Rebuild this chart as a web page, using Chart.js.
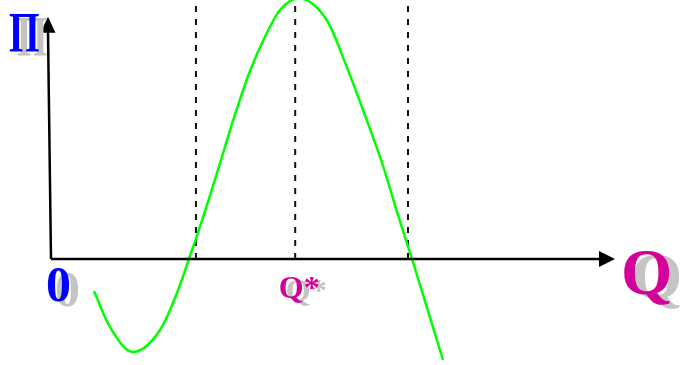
<!DOCTYPE html>
<html>
<head>
<meta charset="utf-8">
<script src="https://cdn.jsdelivr.net/npm/chart.js@4"></script>
<style>
  html, body { margin: 0; padding: 0; background: #fff; }
  #wrap { width: 683px; height: 365px; }
</style>
</head>
<body>
<div id="wrap"><canvas id="chart"></canvas></div>
<script>
// profit curve (Q, profit)
const qValues = [7.62, 10.46, 14.54, 19.33, 22.34, 24.47, 27.0, 30.14, 32.32, 35.28, 38.24, 40.6, 43.97, 48.88, 52.43, 55.98, 58.92, 61.52, 64.01, 69.5];
const profitValues = [-12.36, -26.25, -35.91, -27.41, -13.13, 0, 16.33, 38.22, 53.67, 72.59, 87.14, 96.14, 100.58, 92.28, 74.25, 53.67, 35.64, 16.99, 0, -39.0];
// dashed verticals
const markerQ = [25.7, 43.3, 63.3];
// axis labels
const yLabel = "Π";
const xLabel = "Q";
const originLabel = "0";
const optLabel = "Q*";

document.addEventListener("DOMContentLoaded", function() {
  const curve = qValues.map((q, i) => ({ x: q, y: profitValues[i] }));

  const datasets = [{
    data: curve,
    borderColor: "#00ff00",
    borderWidth: 2.5,
    pointRadius: 0,
    cubicInterpolationMode: "monotone",
    fill: false
  }];
  markerQ.forEach(q => {
    datasets.push({
      data: [{ x: q, y: 0 }, { x: q, y: 102 }],
      borderColor: "#111",
      borderWidth: 2,
      borderDash: [6, 7],
      pointRadius: 0
    });
  });

  function shadowText(ctx, text, x, y, font, color, dx, dy, sx) {
    ctx.save();
    ctx.font = font;
    ctx.textAlign = "left";
    ctx.textBaseline = "alphabetic";
    ctx.translate(x, y);
    ctx.scale(sx || 1, 1);
    ctx.fillStyle = "#c4c4c4";
    ctx.fillText(text, dx / (sx || 1), dy);
    ctx.fillStyle = color;
    ctx.fillText(text, 0, 0);
    ctx.restore();
  }

  // axes with arrow heads and labels
  const axesPlugin = {
    id: "axes",
    afterDatasetsDraw(chart) {
      const ctx = chart.ctx;
      const xs = chart.scales.x, ys = chart.scales.y;
      const ox = xs.getPixelForValue(0), oy = ys.getPixelForValue(0);
      const xEnd = xs.getPixelForValue(100);
      const yTop = ys.getPixelForValue(93.5);
      ctx.save();
      ctx.strokeStyle = "#000";
      ctx.fillStyle = "#000";
      ctx.lineWidth = 2.5;
      ctx.beginPath();
      ctx.moveTo(ox, oy);
      ctx.lineTo(xEnd - 14, oy);
      ctx.moveTo(ox, oy);
      ctx.lineTo(ox - 3, yTop + 14);
      ctx.stroke();
      ctx.beginPath();
      ctx.moveTo(xEnd, oy);
      ctx.lineTo(xEnd - 16, oy - 8);
      ctx.lineTo(xEnd - 16, oy + 8);
      ctx.closePath();
      ctx.fill();
      ctx.beginPath();
      ctx.moveTo(ox - 3, yTop);
      ctx.lineTo(ox - 10.5, yTop + 16);
      ctx.lineTo(ox + 4.5, yTop + 16);
      ctx.closePath();
      ctx.fill();

      const serif = '"Liberation Serif", "DejaVu Serif", serif';
      shadowText(ctx, yLabel, ox - 42, yTop + 35, "bold 56px " + serif, "#0000ff", 8, 4, 0.7);
      shadowText(ctx, originLabel, ox - 5, oy + 42, "bold 50px " + serif, "#0000ff", 9, 5);
      shadowText(ctx, optLabel, xs.getPixelForValue(40.4), oy + 39, "bold 32px " + serif, "#d4009a", 7, 3);
      shadowText(ctx, xLabel, xEnd + 6, oy + 35, "bold 66px " + serif, "#d4009a", 10, 4);
      ctx.restore();
    }
  };

  const ctx = document.getElementById("chart").getContext("2d");
  new Chart(ctx, {
    type: "line",
    data: { datasets: datasets },
    options: {
      responsive: true,
      maintainAspectRatio: false,
      animation: false,
      layout: { padding: 0 },
      plugins: { legend: { display: false }, tooltip: { enabled: false } },
      scales: {
        x: { type: "linear", min: -9.04, max: 112.06, display: false },
        y: { type: "linear", min: -40.93, max: 100, display: false }
      }
    },
    plugins: [axesPlugin]
  });
});
</script>
</body>
</html>
